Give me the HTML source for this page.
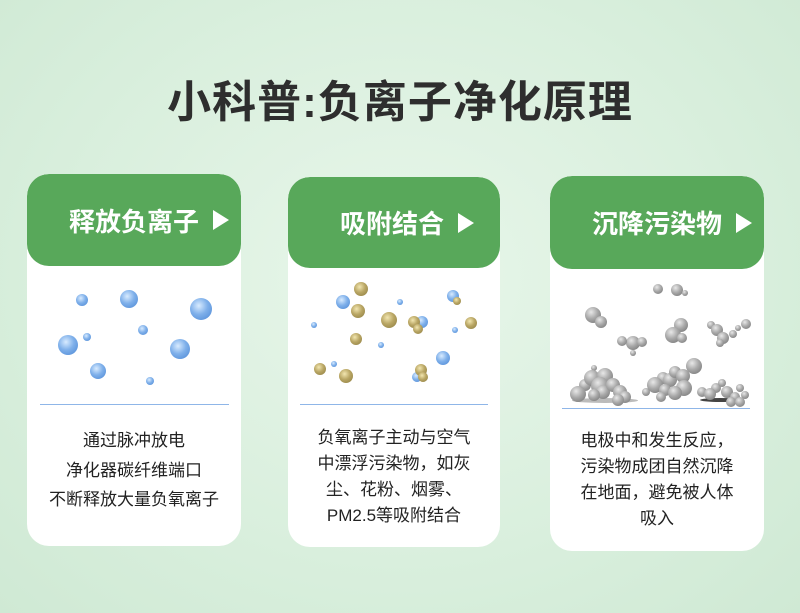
<!DOCTYPE html>
<html><head><meta charset="utf-8"><style>
body{margin:0;width:800px;height:613px;overflow:hidden;background:radial-gradient(ellipse at 50% 45%,#e8f6ea 0%,#d9efdd 60%,#cfe9d4 100%);font-family:"Liberation Sans","Noto Sans CJK SC",sans-serif;position:relative}
.title{position:absolute;top:66px;left:0;width:800px;text-align:center;font-size:44px;font-weight:bold;color:#2e2e2e;letter-spacing:1px}
.card{position:absolute;background:#fff;border-radius:22px;overflow:hidden}
.hd{position:absolute;left:0;top:0;right:0;background:#58a85a;border-radius:22px;color:#fff;font-size:26px;font-weight:bold}
.hd span{position:absolute;top:0;bottom:0;display:flex;align-items:center}
.tri{width:0;height:0;border-left:16px solid #fff;border-top:10px solid transparent;border-bottom:10px solid transparent;display:inline-block;margin-left:14px}
.line{position:absolute;height:1px;background:#8fb6e8}
.txt{position:absolute;left:0;right:0;text-align:center;font-size:17px;color:#222;line-height:26px}
.b,.g,.y{position:absolute;border-radius:50%}
.b{background:radial-gradient(circle at 40% 35%,#d8ebff 0%,#7fb0ea 45%,#4a86d4 100%)}
.y{background:radial-gradient(circle at 40% 35%,#f2e6b0 0%,#b9a664 45%,#8a7a3e 100%)}
.g{background:radial-gradient(circle at 38% 32%,#e8e8e8 0%,#a8a8a8 45%,#6e6e6e 100%)}
</style></head><body>
<div class="title">小科普:负离子净化原理</div>

<div class="card" style="left:27px;top:174px;width:214px;height:372px">
 <div class="hd" style="height:92px"><span style="left:42px">释放负离子<i class="tri"></i></span></div>
 <div class="line" style="left:13px;width:189px;top:230px"></div>
 <div class="txt" style="top:252px;line-height:29.5px">通过脉冲放电<br>净化器碳纤维端口<br>不断释放大量负氧离子</div>
</div>
<div class="card" style="left:288px;top:177px;width:212px;height:370px">
 <div class="hd" style="height:91px"><span style="left:52px">吸附结合<i class="tri"></i></span></div>
 <div class="line" style="left:12px;width:188px;top:227px"></div>
 <div class="txt" style="top:248px">负氧离子主动与空气<br>中漂浮污染物，如灰<br>尘、花粉、烟雾、<br>PM2.5等吸附结合</div>
</div>
<div class="card" style="left:550px;top:176px;width:214px;height:375px">
 <div class="hd" style="height:93px"><span style="left:42px">沉降污染物<i class="tri"></i></span></div>
 <div class="line" style="left:12px;width:188px;top:232px"></div>
 <div class="txt" style="top:252px">电极中和发生反应，<br>污染物成团自然沉降<br>在地面，避免被人体<br>吸入</div>
</div>
<div style="position:absolute;left:572px;top:398px;width:66px;height:5px;border-radius:50%;background:#bbb"></div>
<div style="position:absolute;left:700px;top:398px;width:40px;height:4px;border-radius:50%;background:#444"></div>
<div id="p"></div>
<script>
var P=[
['b',82,300,6],['b',129,299,9],['b',201,309,11],['b',68,345,10],['b',87,337,4],['b',143,330,5],['b',180,349,10],['b',98,371,8],['b',150,381,4],
['b',343,302,7],['b',314,325,3],['b',400,302,3],['b',453,296,6],['b',455,330,3],['b',381,345,3],['b',443,358,7],['b',334,364,3],['b',417,377,5],['b',422,322,6],
['y',361,289,7],['y',358,311,7],['y',389,320,8],['y',414,322,6],['y',418,329,5],['y',471,323,6],['y',356,339,6],['y',320,369,6],['y',346,376,7],['y',421,370,6],['y',423,377,5],['y',457,301,4],
['g',658,289,5],['g',677,290,6],['g',685,293,3],['g',593,315,8],['g',601,322,6],['g',633,343,7],['g',622,341,5],['g',642,342,5],['g',633,353,3],['g',681,325,7],['g',673,335,8],['g',682,338,5],['g',711,325,4],['g',717,330,6],['g',723,338,6],['g',733,334,4],['g',746,324,5],['g',738,328,3],['g',720,343,4],
['g',594,368,3],['g',585,385,6],['g',592,378,8],['g',605,376,8],['g',578,394,8],['g',600,386,9],['g',603,392,7],['g',613,385,7],['g',620,392,7],['g',594,395,6],['g',625,397,6],['g',618,400,6],
['g',646,392,4],['g',694,366,8],['g',663,378,6],['g',670,380,7],['g',675,372,6],['g',683,376,7],['g',655,385,8],['g',665,390,6],['g',684,388,8],['g',675,393,7],['g',661,397,5],
['g',702,392,5],['g',716,388,5],['g',722,383,4],['g',710,394,6],['g',740,388,4],['g',727,392,6],['g',745,395,4],['g',735,397,5],['g',731,402,5],['g',740,402,5]];
var h='';P.forEach(function(a){h+='<div class="'+a[0]+'" style="left:'+(a[1]-a[3])+'px;top:'+(a[2]-a[3])+'px;width:'+(2*a[3])+'px;height:'+(2*a[3])+'px"></div>'});
document.getElementById('p').innerHTML=h;
</script>
</body></html>
